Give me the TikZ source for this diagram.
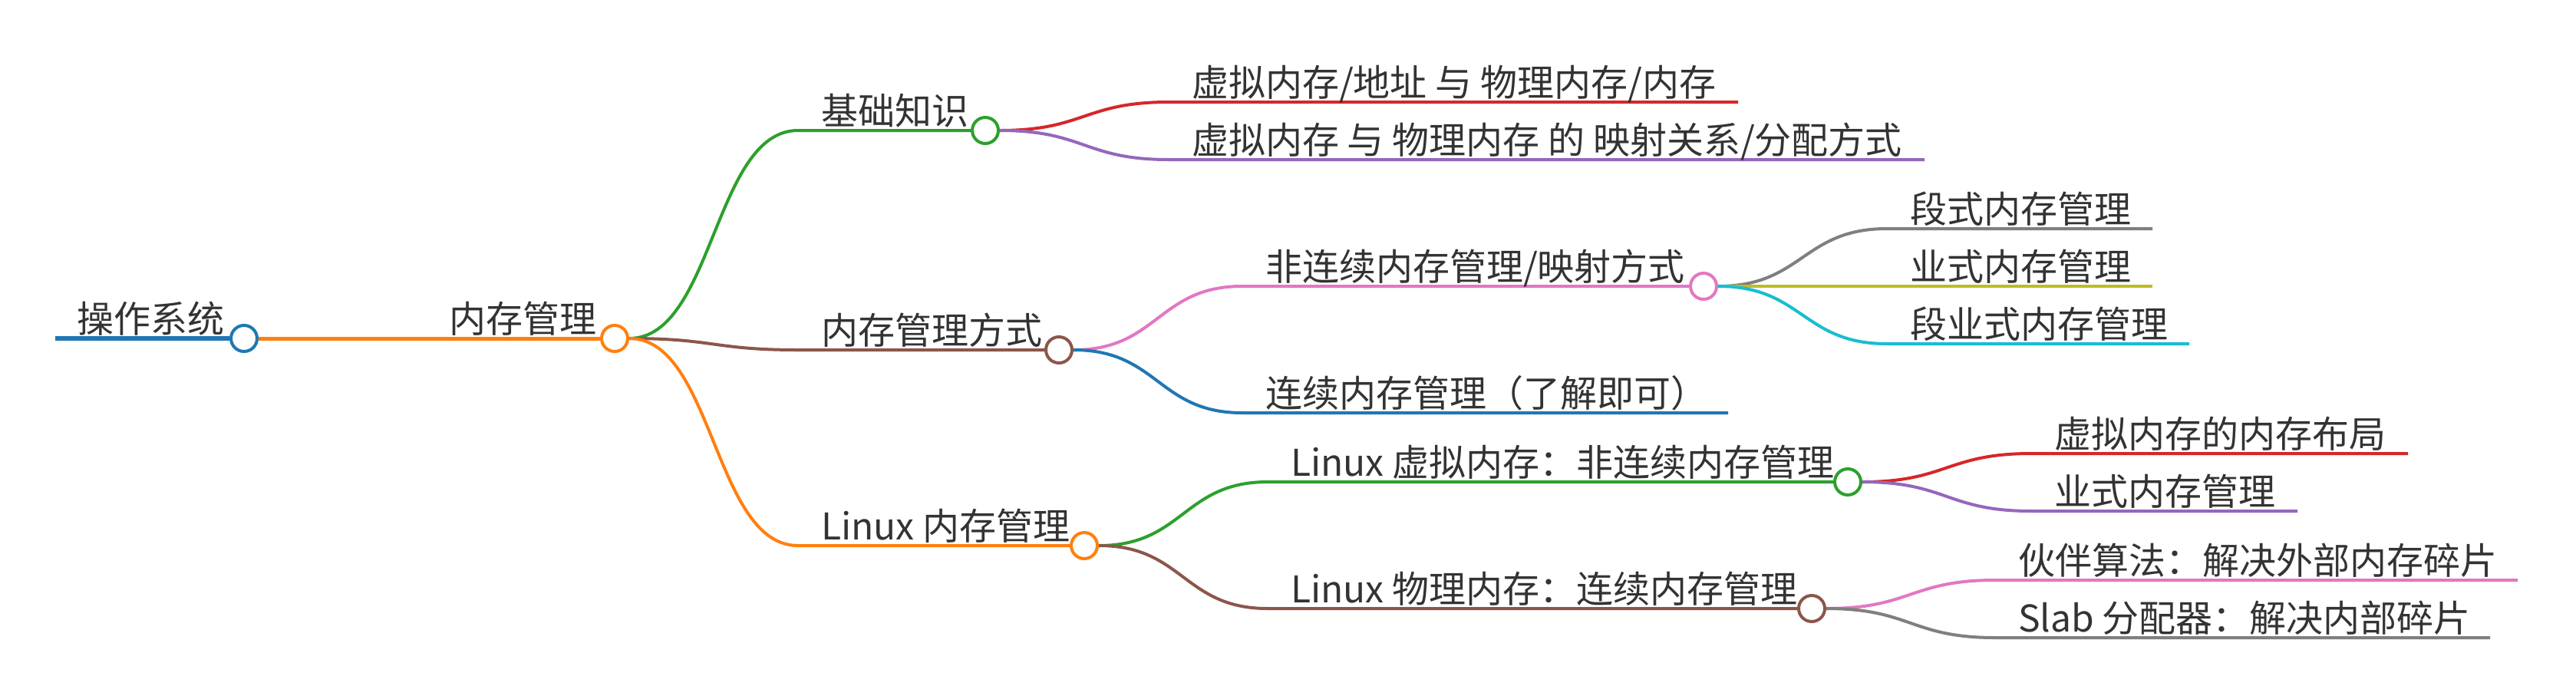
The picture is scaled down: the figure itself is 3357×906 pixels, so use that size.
\documentclass[tikz,border=0pt]{standalone}
\usepackage{fontspec}
\setmainfont{Noto Sans CJK SC}
\definecolor{cBlue}{HTML}{1F77B4}
\definecolor{cOrange}{HTML}{FF7F0E}
\definecolor{cGreen}{HTML}{2CA02C}
\definecolor{cRed}{HTML}{D62728}
\definecolor{cPurple}{HTML}{9467BD}
\definecolor{cBrown}{HTML}{8C564B}
\definecolor{cPink}{HTML}{E377C2}
\definecolor{cGray}{HTML}{7F7F7F}
\definecolor{cOlive}{HTML}{BCBD22}
\definecolor{cCyan}{HTML}{17BECF}
\definecolor{textgray}{HTML}{333333}
\begin{document}
\begin{tikzpicture}[x=1pt,y=-1pt,
  txt/.style={anchor=base west, inner sep=0pt, outer sep=0pt, text=textgray, font=\fontsize{48}{56}\selectfont},
  dot/.style={circle, draw=#1, fill=white, line width=4pt, minimum size=34pt, inner sep=0pt},
  lnk/.style={draw=#1, line width=4pt},
  curv/.style={to path={.. controls +(110,0) and +(-110,0) .. (\tikztotarget)}}
]
\useasboundingbox[fill=white] (0,0) rectangle (3357,906);

% ---------- nodes: dots ----------
\node[dot=cBlue]   (root) at (318,441) {};
\node[dot=cOrange] (m)    at (801,441) {};
\node[dot=cGreen]  (a)    at (1284,170) {};
\node[dot=cBrown]  (b)    at (1380,456) {};
\node[dot=cPink]   (b1)   at (2220,373) {};
\node[dot=cOrange] (c)    at (1413,711) {};
\node[dot=cGreen]  (c1)   at (2408,628) {};
\node[dot=cBrown]  (c2)   at (2361,793) {};

% ---------- line start / end coordinates ----------
\coordinate (root-s) at (72,441);
\coordinate (m-s)    at (557,441);
\coordinate (a-s)    at (1040,170);
\coordinate (a1-s)   at (1523,133);  \coordinate (a1-e) at (2265,133);
\coordinate (a2-s)   at (1523,208);  \coordinate (a2-e) at (2508,208);
\coordinate (b-s)    at (1040,456);
\coordinate (b1-s)   at (1619,373);
\coordinate (b11-s)  at (2459,298);  \coordinate (b11-e) at (2805,298);
\coordinate (b12-s)  at (2459,373);  \coordinate (b12-e) at (2805,373);
\coordinate (b13-s)  at (2459,448);  \coordinate (b13-e) at (2853,448);
\coordinate (b2-s)   at (1619,538);  \coordinate (b2-e)  at (2252,538);
\coordinate (c-s)    at (1040,711);
\coordinate (c1-s)   at (1652,628);
\coordinate (c11-s)  at (2647,591);  \coordinate (c11-e) at (3138,591);
\coordinate (c12-s)  at (2647,666);  \coordinate (c12-e) at (2994,666);
\coordinate (c2-s)   at (1652,793);
\coordinate (c21-s)  at (2600,756);  \coordinate (c21-e) at (3281,756);
\coordinate (c22-s)  at (2600,831);  \coordinate (c22-e) at (3245,831);

% ---------- connectors ----------
\draw[lnk=cBlue, line width=6pt] (root-s) -- (root.west);
\draw[lnk=cOrange, line width=5pt] (root.east) to[curv] (m-s) -- (m.west);

\draw[lnk=cGreen]  (m.east) to[curv] (a-s) -- (a.west);
\draw[lnk=cRed]    (a.east) to[curv] (a1-s) -- (a1-e);
\draw[lnk=cPurple] (a.east) to[curv] (a2-s) -- (a2-e);

\draw[lnk=cBrown]  (m.east) to[curv] (b-s) -- (b.west);
\draw[lnk=cPink]   (b.east) to[curv] (b1-s) -- (b1.west);
\draw[lnk=cGray]   (b1.east) to[curv] (b11-s) -- (b11-e);
\draw[lnk=cOlive]  (b1.east) to[curv] (b12-s) -- (b12-e);
\draw[lnk=cCyan]   (b1.east) to[curv] (b13-s) -- (b13-e);
\draw[lnk=cBlue]   (b.east) to[curv] (b2-s) -- (b2-e);

\draw[lnk=cOrange] (m.east) to[curv] (c-s) -- (c.west);
\draw[lnk=cGreen]  (c.east) to[curv] (c1-s) -- (c1.west);
\draw[lnk=cRed]    (c1.east) to[curv] (c11-s) -- (c11-e);
\draw[lnk=cPurple] (c1.east) to[curv] (c12-s) -- (c12-e);
\draw[lnk=cBrown]  (c.east) to[curv] (c2-s) -- (c2.west);
\draw[lnk=cPink]   (c2.east) to[curv] (c21-s) -- (c21-e);
\draw[lnk=cGray]   (c2.east) to[curv] (c22-s) -- (c22-e);

% ---------- labels ----------
\node[txt] (t-root) at (100,433)  {操作系统};
\node[txt] (t-m)    at (585,433)  {内存管理};
\node[txt] (t-a)    at (1070,162) {基础知识};
\node[txt] (t-a1)   at (1553,125) {虚拟内存/地址 与 物理内存/内存};
\node[txt] (t-a2)   at (1553,200) {虚拟内存 与 物理内存 的 映射关系/分配方式};
\node[txt] (t-b)    at (1070,448) {内存管理方式};
\node[txt] (t-b1)   at (1649,365) {非连续内存管理/映射方式};
\node[txt] (t-b11)  at (2489,290) {段式内存管理};
\node[txt] (t-b12)  at (2489,365) {业式内存管理};
\node[txt] (t-b13)  at (2489,440) {段业式内存管理};
\node[txt] (t-b2)   at (1649,530) {连续内存管理（了解即可）};
\node[txt] (t-c)    at (1070,703) {Linux 内存管理};
\node[txt] (t-c1)   at (1682,620) {Linux 虚拟内存：非连续内存管理};
\node[txt] (t-c11)  at (2677,583) {虚拟内存的内存布局};
\node[txt] (t-c12)  at (2677,658) {业式内存管理};
\node[txt] (t-c2)   at (1682,785) {Linux 物理内存：连续内存管理};
\node[txt] (t-c21)  at (2630,748) {伙伴算法：解决外部内存碎片};
\node[txt] (t-c22)  at (2630,823) {Slab 分配器：解决内部碎片};
\end{tikzpicture}
\end{document}
